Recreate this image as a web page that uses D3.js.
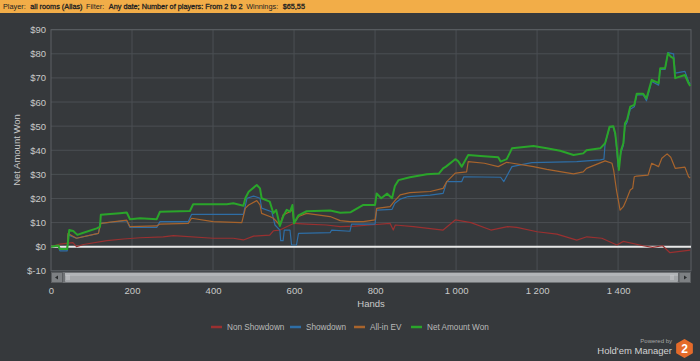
<!DOCTYPE html>
<html><head><meta charset="utf-8">
<script src="https://cdn.jsdelivr.net/npm/d3@7"></script>
<style>
html,body{margin:0;padding:0;background:#36393c;}
svg{display:block;font-family:"Liberation Sans",Arial,sans-serif;}
</style></head>
<body>
<svg id="c" width="700" height="361"></svg>
<script>
// ---- data ----
const seriesNames = ["Non Showdown","Showdown","All-in EV","Net Amount Won"];
const yTicks = [-10,0,10,20,30,40,50,60,70,80,90];
const xTicks = [0,200,400,600,800,1000,1200,1400];
const xTickLabels = ["0","200","400","600","800","1 000","1 200","1 400"];
const headerParts = ["Player:","all rooms (Alias)","Filter:","Any date; Number of players: From 2 to 2","Winnings:","$65,55"];

const nonShowdownHands = [0,22,54,63,80,138,179,220,277,302,400,450,475,500,540,549,565,600,631,680,714,750,788,837,845,850,895,968,998,1037,1086,1127,1150,1200,1249,1298,1323,1360,1397,1413,1462,1485,1510,1528,1578];
const nonShowdownVals  = [0,1.1,1.7,0,0.9,2.5,3.2,3.7,4.1,4.6,3.5,3.5,2.8,4.4,4.8,6.6,6.9,9.7,9.4,9.0,8.3,8.5,9,9.7,6.9,9.0,8.3,6.9,11.1,10,6.9,8.3,8,6.2,5.2,2.7,4.1,3.5,0.7,2.2,0.4,-0.3,0.4,-2.5,-1.4];

const showdownHands = [0,18,22,40,42,63,117,121,187,195,261,269,339,347,475,484,500,516,520,545,553,565,567,573,576,590,594,606,611,689,693,738,742,800,804,842,849,862,882,936,968,972,977,1014,1019,1110,1118,1130,1138,1187,1298,1356,1365,1368,1379,1388,1393,1397,1400,1407,1413,1417,1422,1430,1440,1446,1462,1470,1483,1500,1504,1516,1523,1537,1541,1565,1574,1578];
const showdownVals  = [0,0.3,-1.7,-1.7,4.9,3.5,5.5,9.7,10.8,8,8,10.4,10.4,13.4,13.4,20.1,21.0,20.1,16,14.5,9.0,6.9,2.5,2.5,6.9,6.9,0.7,0.7,5.5,5.8,6.9,6.4,9.4,9.4,15.2,15.5,18,19.7,20.8,21.4,22.1,24.2,27,27,29,28.8,27,30.8,33.2,34.9,35.3,36,36.3,42.9,49.5,49.8,46.5,40,33.2,39,42,50,51.5,57,58,63,63,60.5,68.5,67,73.5,73.5,80.5,80,72,72.7,68.5,67.5];

const allinHands = [0,18,22,40,42,63,117,123,187,195,261,269,339,347,400,471,480,488,508,516,520,540,549,565,573,590,596,600,611,631,689,714,738,771,800,804,837,849,862,886,936,968,977,998,1026,1030,1070,1104,1125,1191,1224,1290,1314,1322,1368,1385,1389,1396,1405,1413,1420,1430,1436,1440,1446,1474,1483,1500,1508,1521,1530,1541,1565,1574,1578];
const allinVals  = [0,0.3,-1.1,-1.1,5.5,3.5,5.5,9.7,11,8.3,8.6,9.4,9.7,11.8,10.4,10,16,17.3,19.1,17.3,13.8,12.5,11.8,9.0,13.2,14.5,15.2,9.7,12.5,13.8,12.5,10.8,10.4,10.4,11.1,15.9,16.6,19.1,21.5,22.4,22.9,24.2,27,30.5,31,35.3,34.6,33.2,35,33.2,32.1,30.2,31,32.5,35.6,34.6,31.8,23.5,15.2,16.6,19.3,23.5,24.2,29,29.3,29.7,34.6,33.2,36.7,38.5,37.1,32.5,33,29,28.5];

const netHands = [0,18,22,40,45,55,65,80,113,121,123,170,187,195,220,261,269,343,351,434,450,475,480,488,508,516,520,540,549,556,565,573,582,590,596,600,611,631,689,714,740,771,800,804,815,830,842,849,858,886,928,958,968,975,998,1005,1014,1030,1060,1104,1110,1125,1133,1138,1191,1224,1257,1290,1314,1322,1356,1368,1379,1388,1393,1397,1402,1407,1413,1417,1422,1430,1440,1446,1462,1470,1483,1500,1504,1516,1523,1530,1537,1541,1565,1574,1578];
const netVals  = [0,0.5,-1,-1,6.9,6.5,4.9,5.8,7.6,8.3,13.2,13.9,14.2,11.4,11.8,11.4,14.5,14.8,17.6,17.6,18.0,17.0,20.2,22.8,25.6,24.2,20.1,18.7,13.9,15.2,8.6,12.5,15.3,14.5,17.3,9.7,13,14.7,15.0,14.1,14.3,17.3,17.3,22.1,20.1,22,20.1,25.2,27.6,28.8,30,30.4,32.5,33.2,36.3,35.5,33.2,38.0,37.6,37.1,35.3,36.3,39.0,40.8,41.8,40.8,39.8,38,38.7,40,40.8,42.9,49.8,50,47,40.8,31.8,39.8,42.9,51.2,52.5,58.1,58.8,63.4,63.4,61.5,69.2,67.8,74,74,80.2,78.8,78.1,69.9,71.2,67.8,66.7];

const colors = ["#9a3030","#2e6ea6","#a8642c","#2aa52a"];

(function(){
const svg = d3.select("#c");
const W = 700, H = 361;
const pL = 51, pR = 691, pT = 29.7, pB = 270.8;
const x = d3.scaleLinear().domain([0,1580]).range([pL,pR]);
const y = d3.scaleLinear().domain([-10,90]).range([pB,pT]);

svg.append("rect").attr("width",W).attr("height",H).attr("fill","#36393c");

// header bar
svg.append("rect").attr("x",0).attr("y",0).attr("width",W).attr("height",13).attr("fill","#f2ad48");
let hx = 3;
headerParts.forEach((t,i)=>{
  const isVal = i%2===1;
  const tx = svg.append("text").attr("x",hx).attr("y",9.3).attr("font-size",7.3).attr("fill","#222")
    .attr("stroke",isVal?"#222":"none").attr("stroke-width",isVal?0.3:0).text(t);
  hx += tx.node().getComputedTextLength() + (isVal ? 3.5 : 4.5);
});

// grid
const g = svg.append("g");
g.selectAll(".hg").data(yTicks).join("line")
  .attr("x1",pL).attr("x2",pR).attr("y1",d=>y(d)).attr("y2",d=>y(d))
  .attr("stroke","#4b4f53").attr("stroke-width",1);
g.selectAll(".vg").data(xTicks.slice(1)).join("line")
  .attr("x1",d=>x(d)).attr("x2",d=>x(d)).attr("y1",pT).attr("y2",pB)
  .attr("stroke","#4b4f53").attr("stroke-width",1);
g.append("rect").attr("x",pL).attr("y",pT).attr("width",pR-pL).attr("height",pB-pT)
  .attr("fill","none").attr("stroke","#5c6064").attr("stroke-width",1);

// axes labels
const yAxis = d3.axisLeft(y).tickValues(yTicks).tickSize(0).tickPadding(5).tickFormat(d=>"$"+d);
const ya = svg.append("g").attr("transform",`translate(${pL},0)`).call(yAxis);
ya.select(".domain").remove();
ya.selectAll("text").attr("fill","#c9c9c9").attr("font-size",9.5).attr("font-family","'Liberation Sans',Arial,sans-serif");

const xAxis = d3.axisBottom(x).tickValues(xTicks).tickSize(0).tickPadding(0).tickFormat((d,i)=>xTickLabels[i]);
const xa = svg.append("g").attr("transform",`translate(0,287)`).call(xAxis);
xa.select(".domain").remove();
xa.selectAll("text").attr("fill","#c9c9c9").attr("font-size",9.5).attr("font-family","'Liberation Sans',Arial,sans-serif");

svg.append("text").attr("x",371).attr("y",307).attr("text-anchor","middle").attr("fill","#c9c9c9")
  .attr("font-size",9.5).text("Hands");
svg.append("text").attr("transform","translate(20,150) rotate(-90)").attr("text-anchor","middle")
  .attr("fill","#c9c9c9").attr("font-size",9.5).text("Net Amount Won");

// series
const line = d3.line().x(d=>x(d[0])).y(d=>y(d[1]));
const series = [
  [nonShowdownHands,nonShowdownVals],
  [showdownHands,showdownVals],
  [allinHands,allinVals],
  [netHands,netVals]
];
svg.append("clipPath").attr("id","pc").append("rect")
  .attr("x",pL).attr("y",pT).attr("width",pR-pL).attr("height",pB-pT);
const lg = svg.append("g").attr("clip-path","url(#pc)");
lg.append("line").attr("x1",pL).attr("x2",pR).attr("y1",y(0)).attr("y2",y(0))
  .attr("stroke","#e8e8e8").attr("stroke-width",2);
series.forEach(([hs,vs],i)=>{
  lg.append("path").datum(hs.map((h,k)=>[h,vs[k]]))
    .attr("d",line).attr("fill","none").attr("stroke",colors[i])
    .attr("stroke-width",i===3?2:1.2).attr("stroke-linejoin","round");
});

// scrollbar
const sb = svg.append("g");
sb.append("rect").attr("x",pL).attr("y",272).attr("width",pR-pL).attr("height",11).attr("fill","#6f7275");
sb.append("rect").attr("x",pL+0.5).attr("y",272.5).attr("width",11).attr("height",10).attr("fill","#7d8083").attr("stroke","#5a5d60");
sb.append("rect").attr("x",pR-12).attr("y",272.5).attr("width",11.5).attr("height",10).attr("fill","#7d8083").attr("stroke","#5a5d60");
sb.append("rect").attr("x",65).attr("y",273).attr("width",613).attr("height",9).attr("fill","#a3a6a9").attr("rx",1);
sb.append("rect").attr("x",65).attr("y",273).attr("width",613).attr("height",3).attr("fill","#b1b4b7");
sb.append("path").attr("d",`M${pL+4},277.5 L${pL+7},275.5 L${pL+7},279.5 Z`).attr("fill","#2a2c2e");
sb.append("path").attr("d",`M${pR-4},277.5 L${pR-7},275.5 L${pR-7},279.5 Z`).attr("fill","#2a2c2e");
[67,69,671,673].forEach(px=>sb.append("line").attr("x1",px).attr("x2",px).attr("y1",275).attr("y2",280).attr("stroke","#d0d2d4").attr("stroke-width",0.8));

// legend
const legX = [211,290,354,411];
const leg = svg.append("g");
seriesNames.forEach((n,i)=>{
  leg.append("line").attr("x1",legX[i]).attr("x2",legX[i]+11).attr("y1",327).attr("y2",327)
    .attr("stroke",colors[i]).attr("stroke-width",2.5);
  leg.append("text").attr("x",legX[i]+16).attr("y",330).attr("fill","#b9b9b9").attr("font-size",8.2).text(n);
});

// logo
svg.append("text").attr("x",672).attr("y",343).attr("text-anchor","end").attr("fill","#a6a6a6").attr("font-size",6).text("Powered by");
svg.append("text").attr("x",672).attr("y",353.5).attr("text-anchor","end").attr("fill","#d2d2d2").attr("font-size",9.5).text("Hold'em Manager");
const hex = d3.range(6).map(k=>{const a=Math.PI/3*k+Math.PI/6;return [684.5+8.5*Math.cos(a),348.5+8.5*Math.sin(a)];});
svg.append("path").attr("d","M"+hex.map(p=>p.join(",")).join("L")+"Z").attr("fill","#e56b2a").attr("stroke","#e56b2a").attr("stroke-width",2).attr("stroke-linejoin","round");
svg.append("text").attr("x",684.5).attr("y",352.5).attr("text-anchor","middle").attr("fill","#ffffff").attr("font-size",12).attr("font-weight","bold").text("2");
})();
</script>
</body></html>
